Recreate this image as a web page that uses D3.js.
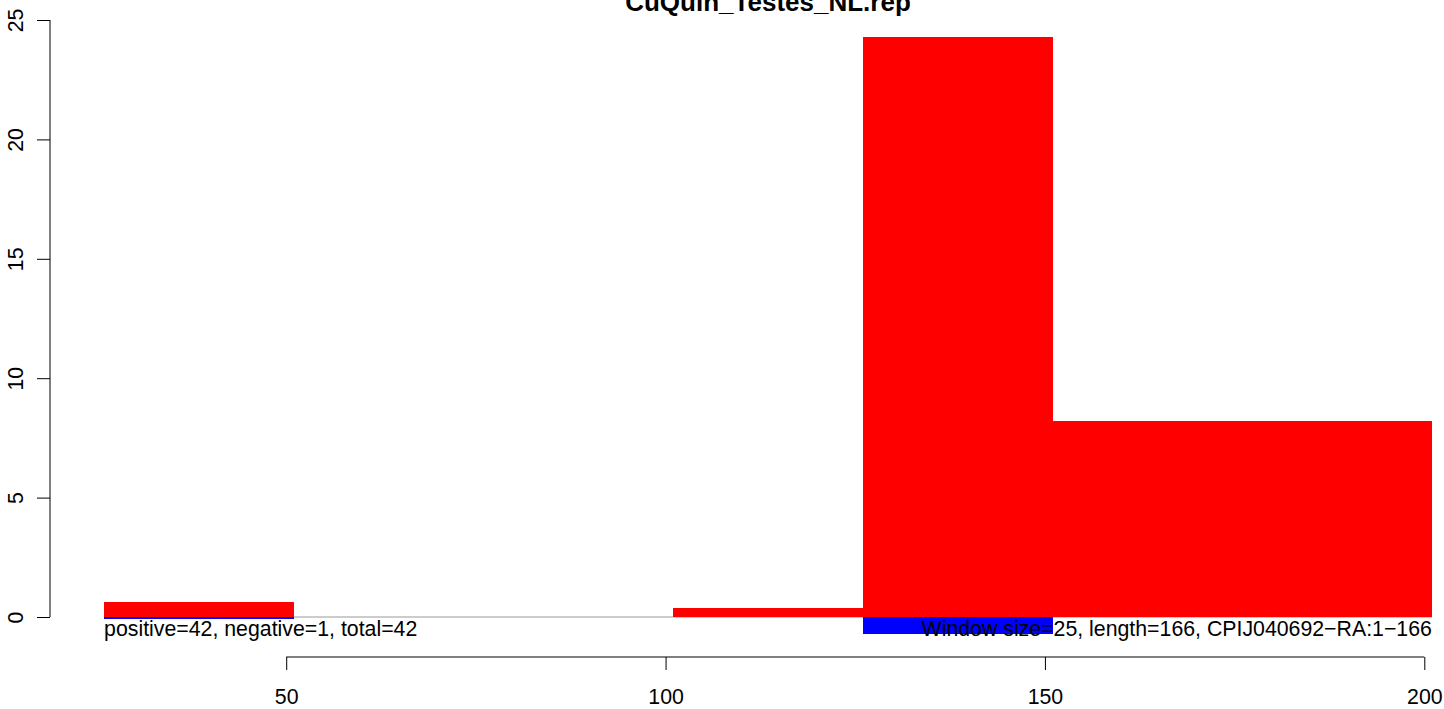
<!DOCTYPE html>
<html><head><meta charset="utf-8">
<script src="https://cdn.jsdelivr.net/npm/d3@7"></script>
<style>body{margin:0;background:#fff}svg{display:block}text{font-family:"Liberation Sans",Arial,sans-serif}</style>
</head><body>
<script>
const title = "CuQuin_Testes_NL.rep";
const binStarts = [26, 51, 76, 101, 126, 151, 176];
const binWidth = 25;
const positiveValues = [0.62, 0, 0, 0.36, 24.3, 8.22, 8.22];
const negativeValues = [-0.06, 0, 0, 0, -0.71, 0, 0];
const xTicks = [50, 100, 150, 200];
const yTicks = [0, 5, 10, 15, 20, 25];
const leftNote = "positive=42, negative=1, total=42";
const rightNote = "Window size=25, length=166, CPIJ040692\u2212RA:1\u2212166";

const W = 1444, H = 709, FS = 21.3;
const svg = d3.select("body").append("svg").attr("width", W).attr("height", H);
const x = d3.scaleLinear().domain([19, 208]).range([51, 1485]);
const y = d3.scaleLinear().domain([0, 25]).range([617, 20]);

// baseline
svg.append("line").attr("x1", x(26)).attr("x2", x(201)).attr("y1", y(0)).attr("y2", y(0))
  .attr("stroke", "#999").attr("stroke-width", 1);

const bins = binStarts.map((s, i) => ({s, p: positiveValues[i], n: negativeValues[i]}));
svg.selectAll("rect.neg").data(bins.filter(d => d.n < 0)).enter().append("rect")
  .attr("shape-rendering", "crispEdges")
  .attr("x", d => x(d.s)).attr("width", d => x(d.s + binWidth) - x(d.s))
  .attr("y", y(0)).attr("height", d => Math.max(1.5, y(d.n) - y(0))).attr("fill", "#0000ff");
svg.selectAll("rect.pos").data(bins.filter(d => d.p > 0)).enter().append("rect")
  .attr("shape-rendering", "crispEdges")
  .attr("x", d => x(d.s)).attr("width", d => x(d.s + binWidth) - x(d.s) + 0.5)
  .attr("y", d => y(d.p)).attr("height", d => y(0) - y(d.p)).attr("fill", "#ff0000");

// x axis
const xa = svg.append("g").attr("transform", "translate(0,657)")
  .call(d3.axisBottom(x).tickValues(xTicks).tickSize(13).tickPadding(19).tickFormat(d3.format("d")));
xa.select(".domain").attr("d", `M${x(50)},0H${x(200)}`).attr("stroke", "#000");
xa.selectAll("line").attr("stroke", "#000");
xa.selectAll("text").attr("font-size", FS).attr("fill", "#000").attr("font-family", "Liberation Sans, Arial, sans-serif");

// y axis
const ya = svg.append("g").attr("transform", "translate(50,0)")
  .call(d3.axisLeft(y).tickValues(yTicks).tickSize(13).tickFormat(d3.format("d")));
ya.select(".domain").attr("d", `M0,${y(0)}V${y(25)}`).attr("stroke", "#000");
ya.selectAll("line").attr("stroke", "#000");
ya.selectAll(".tick text").attr("font-size", FS).attr("fill", "#000")
  .attr("font-family", "Liberation Sans, Arial, sans-serif")
  .attr("text-anchor", "middle").attr("dy", null).attr("x", null)
  .attr("transform", "translate(-27,0) rotate(-90)");

// notes
svg.append("text").attr("x", x(26)).attr("y", 636).attr("font-size", FS).text(leftNote);
svg.append("text").attr("x", x(201)).attr("y", 636).attr("font-size", FS).attr("text-anchor", "end").text(rightNote);

// title
svg.append("text").attr("x", (51 + 1485) / 2).attr("y", 11).attr("text-anchor", "middle")
  .attr("font-size", 26).attr("font-weight", "bold").text(title);
</script>
</body></html>
